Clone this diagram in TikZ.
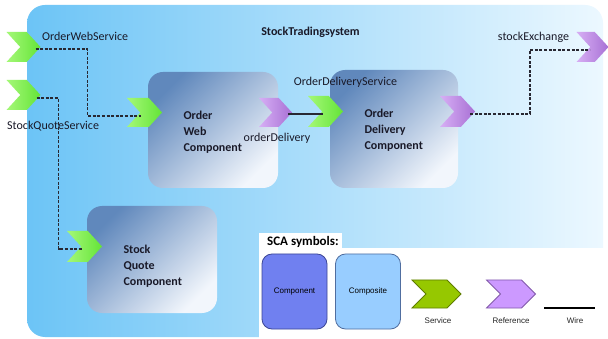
\documentclass[tikz,border=0pt]{standalone}
\usepackage{fontspec}
\setmainfont{Carlito}
\newfontfamily\legendfont{Liberation Sans}
\usetikzlibrary{shapes.symbols}

\definecolor{sysL}{RGB}{108,196,246}
\definecolor{sysM}{RGB}{168,223,250}
\definecolor{sysR}{RGB}{236,248,255}
\definecolor{compA}{RGB}{96,136,188}
\definecolor{compB}{RGB}{242,246,252}
\definecolor{svcL}{RGB}{165,248,120}
\definecolor{svcR}{RGB}{100,228,55}
\definecolor{refL}{RGB}{215,175,245}
\definecolor{refR}{RGB}{168,112,212}
\definecolor{wirec}{RGB}{40,40,50}
\definecolor{txt}{RGB}{25,25,40}
\definecolor{legComp}{RGB}{112,128,240}
\definecolor{legCompB}{RGB}{60,70,150}
\definecolor{legCmp}{RGB}{152,205,255}
\definecolor{legCmpB}{RGB}{80,110,160}
\definecolor{legSvc}{RGB}{150,200,0}
\definecolor{legSvcB}{RGB}{95,125,0}
\definecolor{legRef}{RGB}{204,153,255}
\definecolor{legRefB}{RGB}{130,90,170}

\tikzset{
  chev/.style={signal, signal to=east, signal from=west, signal pointer angle=95,
    inner sep=0pt, minimum width=34pt, minimum height=30pt},
  svc/.style={chev, left color=svcL, right color=svcR},
  refc/.style={chev, left color=refL, right color=refR},
  comp/.style={rounded corners=15pt, inner sep=0pt, shading=axis,
    top color=compA, bottom color=compB, shading angle=45},
  comptext/.style={anchor=west, align=left, text=txt,
    font=\bfseries\fontsize{12}{16}\selectfont},
  lbl/.style={text=txt, inner sep=0pt, font=\fontsize{12}{14}\selectfont},
  dwire/.style={draw=wirec, line width=1.1pt, dash pattern=on 3pt off 1.6pt},
  swire/.style={draw=wirec, line width=1.2pt},
  legbox/.style={rounded corners=10pt, inner sep=0pt, minimum width=65pt,
    minimum height=75pt, line width=0.8pt, text=black,
    font=\legendfont\fontsize{8}{9}\selectfont},
  legchev/.style={signal, signal to=east, signal from=west, signal pointer angle=90,
    inner sep=0pt, minimum width=49pt, minimum height=28pt, line width=0.8pt},
  legtext/.style={inner sep=0pt, text=black!85, font=\legendfont\fontsize{8}{9}\selectfont}
}

\begin{document}
\begin{tikzpicture}[x=1pt,y=-1pt]
\useasboundingbox (0,0) rectangle (608,339);
\fill[white] (0,0) rectangle (608,339);

% composite background
\shade[rounded corners=18pt, left color=sysL, middle color=sysM, right color=sysR]
  (27,5) rectangle (603,337);

% legend panel
\fill[white] (259,233) rectangle (342,249);
\fill[white] (259,248) rectangle (608,339);

% components
\node[comp, minimum width=130pt, minimum height=116pt] (owc) at (213,130) {};
\node[comp, minimum width=128pt, minimum height=118pt] (odc) at (394,129) {};
\node[comp, minimum width=130pt, minimum height=107pt] (sqc) at (152,259.5) {};

\node[comptext] (owct) at (180,132) {Order\\Web\\Component};
\node[comptext] (odct) at (361,130) {Order\\Delivery\\Component};
\node[comptext] (sqct) at (120,266) {Stock\\Quote\\Component};

% services and references
\node[svc] (ows) at (23.5,47) {};
\node[svc] (sqs) at (23.5,95) {};
\node[svc, minimum width=35pt, minimum height=29pt] (owin) at (144.5,112.5) {};
\node[svc, minimum width=35pt, minimum height=31pt] (ods) at (325.5,111.5) {};
\node[svc, minimum width=35pt, minimum height=31pt] (sqin) at (84.5,246.5) {};
\node[refc, minimum width=33pt, minimum height=29pt] (odr) at (275.5,112.5) {};
\node[refc, minimum width=35pt, minimum height=31pt] (odref) at (457.5,111.5) {};
\node[refc, minimum width=32pt, minimum height=30pt] (sx) at (592.5,47) {};

% wires: each starts near a chevron tip and ends in the next chevron's notch
\draw[dwire] ([xshift=12pt,yshift=-2pt]ows.center) -- ++(52,0)
  |- ([xshift=-4pt,yshift=-3.5pt]owin.center);
\draw[dwire] ([xshift=13pt,yshift=-3pt]sqs.center) -- ++(22,0)
  |- ([xshift=-3pt,yshift=-2.5pt]sqin.center);
\draw[dwire] ([xshift=12.5pt,yshift=-2.5pt]odref.center) -- ++(60,0)
  |- ([xshift=-2.5pt,yshift=-3pt]sx.center);
\draw[swire] ([xshift=12.5pt,yshift=-1.5pt]odr.center)
  -- ([xshift=-2.5pt,yshift=-2.5pt]ods.center);

% labels
\node[lbl, anchor=west] (owsl) at (42,36) {OrderWebService};
\node[lbl, anchor=west] (sqsl) at (7,126) {StockQuoteService};
\node[lbl, font=\bfseries\fontsize{12}{14}\selectfont] (title) at (310.5,32) {StockTradingsystem};
\node[lbl] (odsl) at (345.5,82) {OrderDeliveryService};
\node[lbl] (odrl) at (277,138) {orderDelivery};
\node[lbl] (sxl) at (533.5,37) {stockExchange};

% legend
\node[lbl, anchor=west, font=\bfseries\fontsize{13}{15}\selectfont, text=black] (legt) at (267,242) {SCA symbols:};
\node[legbox, fill=legComp, draw=legCompB] (lcomp) at (294.5,291.5) {Component};
\node[legbox, fill=legCmp, draw=legCmpB] (lcmp) at (368,291.5) {Composite};
\node[legchev, fill=legSvc, draw=legSvcB] (lsvc) at (436.5,294) {};
\node[legchev, fill=legRef, draw=legRefB] (lref) at (511,294) {};
\coordinate (lw1) at (544,308);
\coordinate (lw2) at (595,308);
\draw[line width=1.2pt, black] (lw1) -- (lw2);
\node[legtext] (lsvct) at (438,321) {Service};
\node[legtext] (lreft) at (511,321) {Reference};
\node[legtext] (lwt) at (575,321) {Wire};
\end{tikzpicture}
\end{document}
